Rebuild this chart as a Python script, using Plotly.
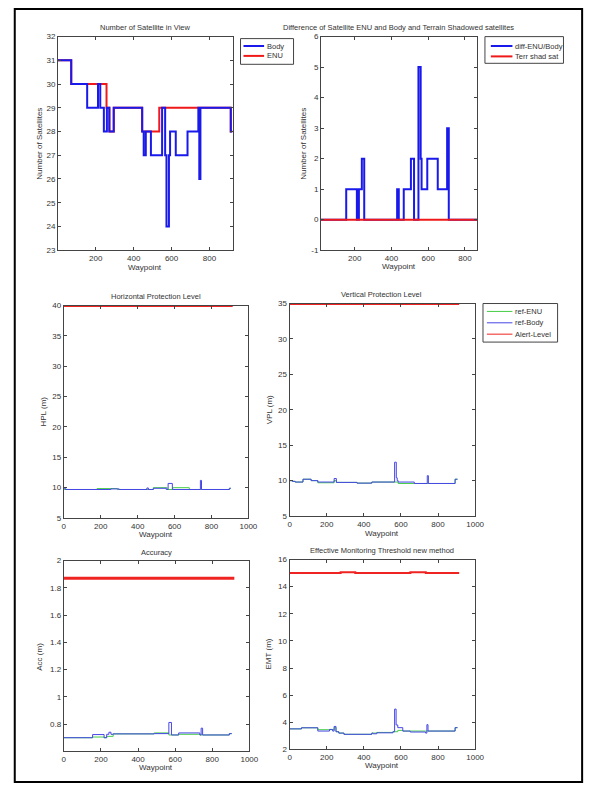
import plotly.graph_objects as go

W, H = 598, 785

# ---------------- data ----------------
# Number of satellites in view (step series: breakpoints / values)
body_x = [1, 71, 155, 212, 224, 243, 259, 272, 295, 445, 453, 464, 491, 550, 566, 573, 586, 592, 622, 684, 741, 746, 752, 912, 920]
body_y = [31, 30, 29, 30, 29, 28, 29, 28, 29, 28, 27, 28, 27, 29, 27, 24, 27, 28, 27, 28, 29, 26, 29, 28, 28]
enu_x = [1, 71, 257, 272, 295, 445, 535, 912, 920]
enu_y = [31, 30, 29, 28, 29, 28, 29, 28, 28]

# Difference ENU/Body and terrain shadowed satellites
diff_x = [1, 154, 212, 223, 239, 252, 431, 440, 467, 506, 523, 547, 559, 564, 595, 652, 703, 712, 920]
diff_y = [0, 1, 0, 1, 2, 0, 1, 0, 1, 2, 0, 5, 2, 1, 2, 1, 3, 0, 0]
terr_x = [1, 920]
terr_y = [0, 0]

# Horizontal protection level
hpl_enu_x = [1, 180, 290, 485, 560, 590, 680, 897, 905]
hpl_enu_y = [9.7, 9.85, 9.7, 10.0, 9.7, 10.0, 9.7, 9.9, 9.9]
hpl_body_x = [1, 10, 255, 300, 450, 458, 485, 555, 565, 588, 740, 746, 897, 905]
hpl_body_y = [9.9, 9.7, 9.8, 9.7, 9.95, 9.7, 9.9, 9.7, 10.7, 9.7, 11.2, 9.7, 9.9, 9.9]
hpl_alert_x = [1, 915]
hpl_alert_y = [40, 40]

# Vertical protection level
vpl_enu_x = [1, 15, 30, 72, 116, 152, 240, 252, 363, 443, 566, 585, 672, 892, 905]
vpl_enu_y = [10.0, 9.9, 9.8, 10.2, 10.0, 9.7, 10.0, 9.75, 9.65, 9.8, 9.8, 9.6, 9.6, 10.2, 10.2]
vpl_body_x = [1, 15, 30, 72, 116, 152, 240, 252, 363, 443, 566, 575, 580, 585, 672, 742, 748, 892, 905]
vpl_body_y = [10.0, 9.9, 9.8, 10.2, 10.0, 9.8, 10.3, 9.75, 9.65, 9.8, 12.6, 10.4, 10.0, 9.8, 9.6, 10.7, 9.6, 10.2, 10.2]
vpl_alert_x = [1, 914]
vpl_alert_y = [35, 35]

# Accuracy
acc_enu_x = [1, 155, 217, 231, 266, 487, 566, 580, 619, 733, 748, 892, 905]
acc_enu_y = [0.70, 0.705, 0.70, 0.71, 0.728, 0.735, 0.72, 0.72, 0.725, 0.72, 0.72, 0.73, 0.73]
acc_body_x = [1, 155, 217, 231, 243, 254, 266, 487, 566, 580, 619, 733, 740, 748, 892, 905]
acc_body_y = [0.70, 0.723, 0.70, 0.725, 0.74, 0.725, 0.728, 0.73, 0.812, 0.72, 0.735, 0.72, 0.77, 0.72, 0.73, 0.73]
acc_alert_x = [1, 919]
acc_alert_y = [1.87, 1.87]

# Effective monitoring threshold
emt_enu_x = [1, 64, 152, 232, 240, 250, 265, 293, 443, 470, 557, 583, 610, 733, 746, 892, 905]
emt_enu_y = [3.51, 3.59, 3.45, 3.45, 3.6, 3.3, 3.2, 3.11, 3.2, 3.25, 3.3, 3.4, 3.35, 3.35, 3.35, 3.6, 3.6]
emt_body_x = [1, 64, 152, 215, 232, 240, 250, 265, 293, 443, 450, 470, 557, 566, 574, 583, 610, 650, 733, 740, 746, 892, 905]
emt_body_y = [3.51, 3.59, 3.35, 3.47, 3.35, 3.69, 3.3, 3.2, 3.11, 3.2, 3.15, 3.22, 3.3, 4.97, 3.8, 3.6, 3.35, 3.28, 3.2, 3.82, 3.35, 3.6, 3.6]
emt_alert_x = [1, 275, 354, 651, 734, 914]
emt_alert_y = [15, 15.07, 15, 15.07, 15, 15]

# legend labels
legend1_names = ["Body", "ENU"]
legend2_names = ["diff-ENU/Body", "Terr shad sat"]
legend3_names = ["ref-ENU", "ref-Body", "Alert-Level"]

# ---------------- styling ----------------
FONT = "Liberation Sans, Arial, sans-serif"
TXT = "#333333"
AX = "#444444"
BLUE_T = "rgb(25,25,235)"
RED_T = "rgb(240,25,25)"
BLUE = "rgb(70,70,230)"
GREEN = "rgb(70,205,70)"
RED = "rgb(240,35,35)"


def px_x(p):
    return p / W


def px_y(p):
    return 1 - p / H


fig = go.Figure()


def add_line(x, y, color, width, ax, name, shape="hv"):
    fig.add_trace(go.Scatter(x=x, y=y, mode="lines", line=dict(color=color, width=width, shape=shape),
                             name=name, xaxis="x" + ax, yaxis="y" + ax, showlegend=False))


# subplot 1
add_line(enu_x, enu_y, RED_T, 2, "", "ENU")
add_line(body_x, body_y, BLUE_T, 2, "", "Body")
# subplot 2
add_line(diff_x, diff_y, BLUE_T, 2, "2", "diff-ENU/Body")
add_line(terr_x, terr_y, RED_T, 2, "2", "Terr shad sat", shape="linear")
# subplot 3 HPL
add_line(hpl_enu_x, hpl_enu_y, GREEN, 1, "3", "ref-ENU")
add_line(hpl_body_x, hpl_body_y, BLUE, 1, "3", "ref-Body")
add_line(hpl_alert_x, hpl_alert_y, RED, 3, "3", "Alert-Level", shape="linear")
# subplot 4 VPL
add_line(vpl_enu_x, vpl_enu_y, GREEN, 1, "4", "ref-ENU")
add_line(vpl_body_x, vpl_body_y, BLUE, 1, "4", "ref-Body")
add_line(vpl_alert_x, vpl_alert_y, RED, 3, "4", "Alert-Level", shape="linear")
# subplot 5 Accuracy
add_line(acc_enu_x, acc_enu_y, GREEN, 1, "5", "ref-ENU")
add_line(acc_body_x, acc_body_y, BLUE, 1, "5", "ref-Body")
add_line(acc_alert_x, acc_alert_y, RED, 3, "5", "Alert-Level", shape="linear")
# subplot 6 EMT
add_line(emt_enu_x, emt_enu_y, GREEN, 1, "6", "ref-ENU")
add_line(emt_body_x, emt_body_y, BLUE, 1, "6", "ref-Body")
add_line(emt_alert_x, emt_alert_y, RED, 2, "6", "Alert-Level")

# axes: (left, right, top, bottom) in pixels
boxes = {
    1: (57, 235, 33, 249),
    2: (325, 484, 33, 249),
    3: (63, 251, 305, 520),
    4: (293, 482, 303, 518),
    5: (63, 252, 563, 756),
    6: (293, 482, 562, 754),
}
xranges = {1: [1, 922], 2: [17, 866], 3: [0, 1000], 4: [0, 1000], 5: [0, 1000], 6: [0, 1000]}
xticks = {1: [200, 400, 600, 800], 2: [200, 400, 600, 800]}
yranges = {1: [23, 32], 2: [-1, 6], 3: [5, 40], 4: [5, 35], 5: [0.6, 2], 6: [2, 16]}
yticks = {
    1: (list(range(23, 33)), [str(v) for v in range(23, 33)]),
    2: (list(range(-1, 7)), [str(v) for v in range(-1, 7)]),
    3: (list(range(5, 41, 5)), [str(v) for v in range(5, 41, 5)]),
    4: (list(range(5, 36, 5)), [str(v) for v in range(5, 36, 5)]),
    5: ([0.8, 1.0, 1.2, 1.4, 1.6, 1.8, 2.0], ["0.8", "1", "1.2", "1.4", "1.6", "1.8", "2"]),
    6: (list(range(2, 17, 2)), [str(v) for v in range(2, 17, 2)]),
}

common = dict(showline=True, linecolor=AX, linewidth=1, mirror="ticks", ticks="inside", ticklen=3,
              tickcolor=AX, tickwidth=1, showgrid=False, zeroline=False,
              tickfont=dict(family=FONT, size=8, color=TXT))

layout_axes = {}
for i, (l, r, t, b) in boxes.items():
    sx = "" if i == 1 else str(i)
    xa = dict(common, domain=[px_x(l), px_x(r)], anchor="y" + sx, range=xranges[i])
    xa["tickvals"] = xticks.get(i, [0, 200, 400, 600, 800, 1000])
    ya = dict(common, domain=[px_y(b), px_y(t)], anchor="x" + sx, range=yranges[i],
              tickvals=yticks[i][0], ticktext=yticks[i][1])
    layout_axes["xaxis" + sx] = xa
    layout_axes["yaxis" + sx] = ya

ann = []
shapes = []


def add_text(text, x, y, size=7.5, angle=0, xanchor="center"):
    ann.append(dict(text=text, x=px_x(x), y=px_y(y), xref="paper", yref="paper", showarrow=False,
                    xanchor=xanchor, yanchor="middle", textangle=angle,
                    font=dict(family=FONT, size=size, color=TXT)))


titles = [
    ("Number of Satellite in View", 146, 24),
    ("Difference of Satellite ENU and Body and Terrain Shadowed satellites", 404, 24),
    ("Horizontal Protection Level", 157, 296),
    ("Vertical Protection Level", 387, 294),
    ("Accuracy", 157, 555),
    ("Effective Monitoring Threshold new method", 387, 553),
]
for t, x, y in titles:
    add_text(t, x, y)

xtitles = [("Waypoint", 146, 267), ("Waypoint", 404, 266), ("Waypoint", 157, 537),
           ("Waypoint", 387, 536), ("Waypoint", 157, 772), ("Waypoint", 387, 770)]
for t, x, y in xtitles:
    add_text(t, x, y, size=8)

ytitles = [("Number of Satellites", 38, 141), ("Number of Satellites", 307, 141), ("HPL (m)", 42, 412),
           ("VPL (m)", 272, 410), ("Acc (m)", 38, 660), ("EMT (m)", 271, 658)]
for t, x, y in ytitles:
    add_text(t, x, y, size=8, angle=-90)


# compact MATLAB-style legend boxes (box, sample lines, labels)
def add_legend(box, names, colors, widths, sample, text_x, rows):
    l, t, r, b = box
    shapes.append(dict(type="rect", xref="paper", yref="paper", x0=px_x(l), x1=px_x(r), y0=px_y(b), y1=px_y(t),
                       line=dict(color=AX, width=1), fillcolor="white", layer="above"))
    for name, c, w, yy in zip(names, colors, widths, rows):
        shapes.append(dict(type="line", xref="paper", yref="paper", x0=px_x(sample[0]), x1=px_x(sample[1]),
                           y0=px_y(yy), y1=px_y(yy), line=dict(color=c, width=w), layer="above"))
        add_text(name, text_x, yy, size=7.5, xanchor="left")


add_legend((243, 35, 297, 61), legend1_names, [BLUE_T, RED_T], [2, 2], (246, 267), 268, [42.5, 52.5])
add_legend((492, 33, 572, 60), legend2_names, [BLUE_T, RED_T], [2, 2], (498, 520), 520.5, [42.5, 53])
add_legend((490, 303, 566, 342), legend3_names, [GREEN, BLUE, RED], [1, 1, 1], (494, 520), 521, [311, 322.5, 334])

# outer frame
shapes.append(dict(type="rect", xref="paper", yref="paper", x0=px_x(13), x1=px_x(591), y0=px_y(787), y1=px_y(5),
                   line=dict(color="black", width=2)))

fig.update_layout(
    width=W, height=H, margin=dict(l=0, r=0, t=0, b=0),
    paper_bgcolor="white", plot_bgcolor="white",
    showlegend=False,
    annotations=ann,
    shapes=shapes,
    **layout_axes,
)

fig.write_html("out.html")
